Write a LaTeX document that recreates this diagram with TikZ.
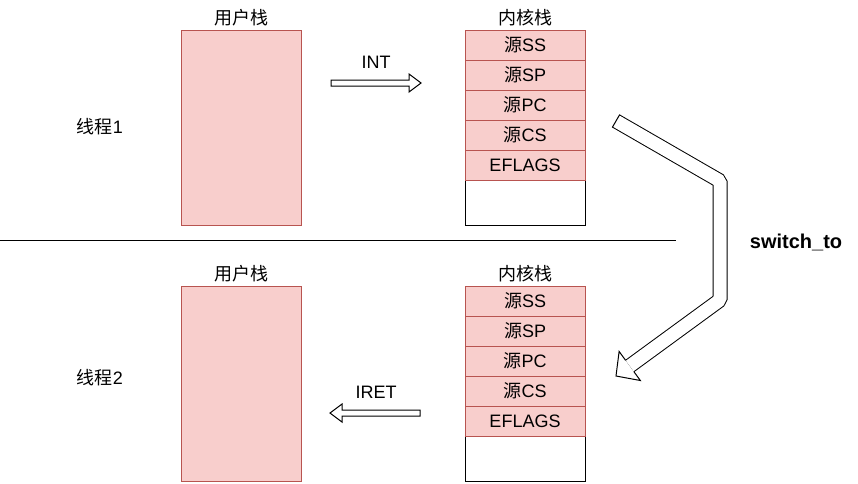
\documentclass[tikz,border=0pt]{standalone}
\usepackage{fontspec}
\setmainfont{Liberation Sans}
\newfontfamily\cjk{Noto Sans CJK SC}
\usetikzlibrary{arrows.meta,calc,shapes}
\definecolor{cellfill}{HTML}{F8CECC}
\definecolor{celldraw}{HTML}{B85450}
\newcommand\src{{\cjk 源}}
\tikzset{
  ustack/.style={draw=celldraw, fill=cellfill, minimum width=120pt, minimum height=195pt, inner sep=0pt},
  kstack/.style={draw=black, fill=white, minimum width=120pt, minimum height=195pt, inner sep=0pt},
  kcell/.style={draw=celldraw, fill=cellfill, minimum width=120pt, minimum height=30pt, inner sep=0pt},
  stacktitle/.style={above=3pt, inner sep=0pt},
}

\begin{document}
\begin{tikzpicture}[x=1pt, y=-1pt, line width=1pt]

  \fontsize{18}{21}\selectfont

  \newcommand\Dy{256}
  \newcommand\flexarrow[5]{%
    \coordinate (flexbase) at ($(#2)!#5!(#1)$);
    \draw[fill=white] ($(#1)!#3!90:(#2)$) -- ($(flexbase)!#3!90:(#2)$)
      -- ($(flexbase)!#4!90:(#2)$) -- (#2) -- ($(flexbase)!#4!-90:(#2)$)
      -- ($(flexbase)!#3!-90:(#2)$) -- ($(#1)!#3!-90:(#2)$) -- cycle;}

  \useasboundingbox (0,0) rectangle (858,483);

  %% thread 1
  \node (thA) at (100,127) {{\cjk 线程}1};
  \node[ustack] (ustackA) at (241,127.5) {};
  \node[stacktitle] at (ustackA.north) {\cjk 用户栈};
  \node[kstack] (kstackA) at (525,127.5) {};
  \node[stacktitle] at (kstackA.north) {\cjk 内核栈};
  \node[kcell] (ssA) at (525,45)  {\src SS};
  \node[kcell] (spA) at (525,75)  {\src SP};
  \node[kcell] (pcA) at (525,105) {\src PC};
  \node[kcell] (csA) at (525,135) {\src CS};
  \node[kcell] (flA) at (525,165) {EFLAGS};

  %% thread 2
  \node (thB) at (100,{127+\Dy-5}) {{\cjk 线程}2};
  \node[ustack] (ustackB) at (241,127.5+\Dy) {};
  \node[stacktitle] at (ustackB.north) {\cjk 用户栈};
  \node[kstack] (kstackB) at (525,127.5+\Dy) {};
  \node[stacktitle] at (kstackB.north) {\cjk 内核栈};
  \node[kcell] (ssB) at (525,45+\Dy)  {\src SS};
  \node[kcell] (spB) at (525,75+\Dy)  {\src SP};
  \node[kcell] (pcB) at (525,105+\Dy) {\src PC};
  \node[kcell] (csB) at (525,135+\Dy) {\src CS};
  \node[kcell] (flB) at (525,165+\Dy) {EFLAGS};

  % separator
  \coordinate (sepL) at (0,240);
  \coordinate (sepR) at (676,240);
  \draw (sepL) -- (sepR);

  % INT / IRET
  \coordinate (intS) at (331,83);
  \coordinate (intE) at (421,83);
  \flexarrow{intS}{intE}{3pt}{9pt}{12pt}
  \node (intL) at (376,62) {INT};

  \coordinate (iretS) at (420,413);
  \coordinate (iretE) at (330,413);
  \flexarrow{iretS}{iretE}{3pt}{9pt}{12pt}
  \node (iretL) at (376,392) {IRET};

  % switch_to
  \coordinate (swT) at (616,121);
  \coordinate (swB1) at (720,181);
  \coordinate (swB2) at (720,300);
  \coordinate (swTip) at (616,376);
  \coordinate (swH) at ($(swTip)!17pt!(swB2)$);
  \draw[double=white, double distance=13pt, rounded corners=2pt]
    (swT) -- (swB1) -- (swB2) -- (swH);
  \draw ($(swT)!7.5pt!90:(swB1)$) -- ($(swT)!7.5pt!-90:(swB1)$);
  \draw ($(swH)!7pt!90:(swTip)$) -- ($(swH)!18pt!90:(swTip)$) -- (swTip)
    -- ($(swH)!18pt!-90:(swTip)$) -- ($(swH)!7pt!-90:(swTip)$);
  \node[font=\bfseries\fontsize{20}{24}\selectfont] (swL) at (796,242) {switch\_to};

\end{tikzpicture}
\end{document}
